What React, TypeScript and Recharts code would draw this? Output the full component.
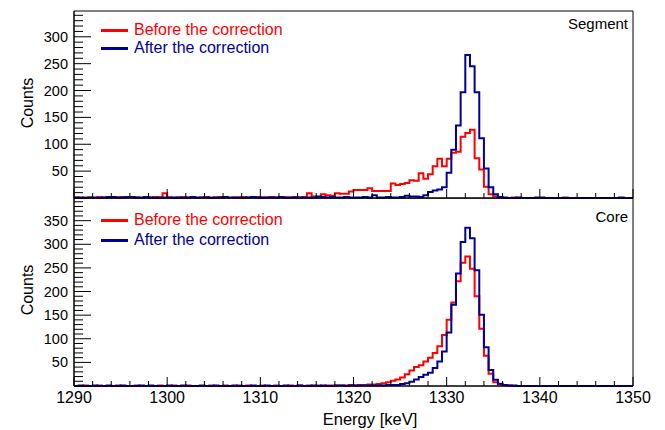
import { LineChart, Line, XAxis, YAxis, ReferenceArea } from 'recharts'

// 0.5 keV bins, lower edges from 1290 to 1349.5
const binLow = Array.from({ length: 120 }, (_, i) => 1290 + i * 0.5)

const segmentBefore = [
  1, 0, 1, 1, 0, 2, 1, 0, 1, 1,
  2, 1, 2, 1, 0, 1, 1, 2, 1, 9,
  1, 0, 1, 2, 1, 1, 0, 1, 2, 1,
  1, 2, 1, 0, 1, 1, 2, 1, 1, 2,
  1, 1, 2, 1, 2, 1, 1, 2, 1, 2,
  9, 3, 2, 7, 5, 4, 9, 8, 8, 12,
  15, 15, 15, 18, 13, 13, 13, 13, 27, 24,
  26, 28, 33, 32, 46, 36, 44, 59, 73, 59,
  73, 84, 86, 114, 121, 127, 74, 53, 21, 7,
  3, 1, 0, 0, 1, 0, 0, 0, 0, 0,
  0, 0, 0, 0, 0, 1, 0, 0, 0, 0,
  0, 0, 0, 0, 0, 0, 0, 0, 0, 0,
]

const segmentAfter = [
  1, 1, 0, 1, 1, 0, 1, 2, 2, 1,
  1, 2, 2, 1, 1, 2, 1, 0, 1, 1,
  1, 1, 1, 0, 1, 2, 1, 1, 1, 0,
  1, 1, 2, 1, 1, 1, 0, 1, 2, 1,
  1, 1, 1, 1, 2, 1, 1, 1, 1, 1,
  1, 1, 3, 2, 1, 2, 1, 1, 2, 1,
  1, 1, 2, 1, 5, 1, 1, 2, 1, 1,
  2, 4, 3, 3, 2, 5, 11, 14, 16, 20,
  47, 90, 135, 197, 266, 245, 197, 111, 55, 20,
  7, 2, 1, 0, 0, 1, 0, 0, 0, 1,
  1, 0, 0, 0, 0, 0, 0, 0, 0, 0,
  0, 0, 0, 0, 0, 0, 0, 1, 0, 0,
]

const coreBefore = [
  0, 0, 1, 0, 0, 1, 0, 0, 0, 1,
  0, 0, 0, 1, 0, 0, 0, 0, 1, 0,
  0, 1, 0, 0, 1, 0, 0, 0, 0, 1,
  0, 0, 1, 0, 0, 1, 0, 1, 0, 0,
  1, 0, 0, 1, 0, 0, 1, 0, 1, 0,
  1, 0, 1, 0, 1, 1, 1, 1, 1, 2,
  1, 2, 2, 3, 3, 4, 6, 8, 11, 14,
  18, 25, 33, 40, 44, 52, 60, 70, 84, 108,
  140, 177, 222, 261, 274, 248, 190, 121, 64, 26,
  8, 3, 1, 1, 0, 0, 0, 0, 0, 0,
  0, 0, 0, 0, 0, 0, 0, 0, 0, 0,
  0, 0, 0, 0, 0, 0, 0, 0, 0, 0,
]

const coreAfter = [
  0, 1, 0, 0, 1, 0, 0, 1, 0, 0,
  1, 0, 0, 0, 1, 0, 1, 0, 0, 0,
  1, 0, 0, 1, 0, 0, 0, 1, 0, 0,
  1, 0, 0, 0, 1, 0, 0, 0, 1, 0,
  0, 1, 0, 0, 0, 1, 0, 0, 1, 0,
  0, 1, 0, 1, 0, 0, 1, 1, 0, 1,
  1, 1, 1, 1, 1, 1, 1, 2, 2, 2,
  4, 6, 9, 14, 19, 24, 28, 38, 52, 73,
  113, 172, 238, 305, 335, 313, 245, 151, 82, 34,
  13, 5, 2, 1, 1, 0, 0, 0, 0, 0,
  0, 0, 0, 0, 0, 0, 0, 0, 0, 0,
  0, 0, 0, 0, 0, 0, 0, 0, 0, 0,
]

const xLabels = [1290, 1300, 1310, 1320, 1330, 1340, 1350]
const xTicks = Array.from({ length: 31 }, (_, i) => 1290 + i * 2)
const segmentLabels = [50, 100, 150, 200, 250, 300]
const coreLabels = [50, 100, 150, 200, 250, 300, 350]
const segmentYTicks = Array.from({ length: 35 }, (_, i) => i * 10)
const coreYTicks = Array.from({ length: 40 }, (_, i) => i * 10)

const RED = '#ff0000'
const BLUE = '#000099'
const FONT = '"Liberation Sans", Arial, Helvetica, sans-serif'
const LEFT = 74

function rows(before: number[], after: number[]) {
  const r = binLow.map((e, i) => ({ e, before: before[i], after: after[i] }))
  r.push({ e: 1350, before: before[119], after: after[119] })
  return r
}

function yTick(labels: number[]) {
  return (props: any) => {
    const { y, payload } = props
    const v = payload.value
    const major = v % 50 === 0
    return (
      <g>
        <line x1={LEFT} x2={LEFT + (major ? 17 : 9)} y1={y} y2={y} stroke="#000" />
        {labels.includes(v) && (
          <text x={LEFT - 6} y={y + 5} textAnchor="end" fontSize={14.5} fontFamily={FONT} fill="#000">
            {v}
          </text>
        )}
      </g>
    )
  }
}

function xTick(bottom: number, showLabels: boolean) {
  return (props: any) => {
    const { x, payload } = props
    const v = payload.value
    const major = v % 10 === 0
    return (
      <g>
        <line x1={x} x2={x} y1={bottom} y2={bottom - (major ? 9 : 5)} stroke="#000" />
        {showLabels && xLabels.includes(v) && (
          <text x={x} y={bottom + 17} textAnchor="middle" fontSize={16} fontFamily={FONT} fill="#000">
            {v}
          </text>
        )}
      </g>
    )
  }
}

function Panel({ data, yMax, yTicks, labels, bottom, showLabels, height, margin }: any) {
  return (
    <LineChart width={665} height={height} data={data} margin={margin}>
      <XAxis
        type="number"
        dataKey="e"
        domain={[1290, 1350]}
        ticks={xTicks}
        interval={0}
        height={1}
        tickLine={false}
        axisLine={{ stroke: '#000' }}
        tick={xTick(bottom, showLabels)}
      />
      <YAxis
        type="number"
        domain={[0, yMax]}
        ticks={yTicks}
        interval={0}
        width={LEFT}
        tickLine={false}
        axisLine={{ stroke: '#000' }}
        tick={yTick(labels)}
      />
      <ReferenceArea x1={1290} x2={1350} y1={0} y2={yMax} fill="none" stroke="#000" ifOverflow="visible" />
      <Line type="stepAfter" dataKey="before" stroke={RED} strokeWidth={2} dot={false} isAnimationActive={false} />
      <Line type="stepAfter" dataKey="after" stroke={BLUE} strokeWidth={2} dot={false} isAnimationActive={false} />
    </LineChart>
  )
}

function LegendRow({ top, color, text }: { top: number; color: string; text: string }) {
  return (
    <div style={{ position: 'absolute', left: 101, top: top - 10, height: 20, display: 'flex', alignItems: 'center' }}>
      <div style={{ width: 27, height: 3, background: color }} />
      <span style={{ marginLeft: 6, color, fontSize: 16, fontFamily: FONT }}>{text}</span>
    </div>
  )
}

const textStyle = { position: 'absolute' as const, fontFamily: FONT, color: '#000' }

export default function App() {
  return (
    <div style={{ position: 'absolute', left: 0, top: 0, width: 665, height: 430, background: '#fff' }}>
      <div style={{ position: 'absolute', left: 0, top: 0 }}>
        <Panel
          data={rows(segmentBefore, segmentAfter)}
          yMax={348}
          yTicks={segmentYTicks}
          labels={segmentLabels}
          bottom={198}
          showLabels={false}
          height={200}
          margin={{ top: 11, right: 32, bottom: 1, left: 0 }}
        />
      </div>
      <div style={{ position: 'absolute', left: 0, top: 198 }}>
        <Panel
          data={rows(coreBefore, coreAfter)}
          yMax={398}
          yTicks={coreYTicks}
          labels={coreLabels}
          bottom={188}
          showLabels={true}
          height={232}
          margin={{ top: 0, right: 32, bottom: 43, left: 0 }}
        />
      </div>

      <LegendRow top={30} color={RED} text="Before the correction" />
      <LegendRow top={48} color={BLUE} text="After the correction" />
      <LegendRow top={220} color={RED} text="Before the correction" />
      <LegendRow top={240} color={BLUE} text="After the correction" />

      <div style={{ ...textStyle, right: 665 - 628, top: 15, fontSize: 15 }}>Segment</div>
      <div style={{ ...textStyle, right: 665 - 628, top: 208, fontSize: 15 }}>Core</div>

      <div style={{ ...textStyle, left: 19, top: 103, fontSize: 16, transform: 'translate(-50%, -50%) rotate(-90deg)', transformOrigin: 'center', lineHeight: '18px', marginLeft: 9 }}>
        Counts
      </div>
      <div style={{ ...textStyle, left: 19, top: 290, fontSize: 16, transform: 'translate(-50%, -50%) rotate(-90deg)', transformOrigin: 'center', lineHeight: '18px', marginLeft: 9 }}>
        Counts
      </div>

      <div style={{ ...textStyle, left: 370, top: 410, fontSize: 16.5, transform: 'translateX(-50%)', whiteSpace: 'nowrap', lineHeight: '18px' }}>
        Energy [keV]
      </div>
    </div>
  )
}
